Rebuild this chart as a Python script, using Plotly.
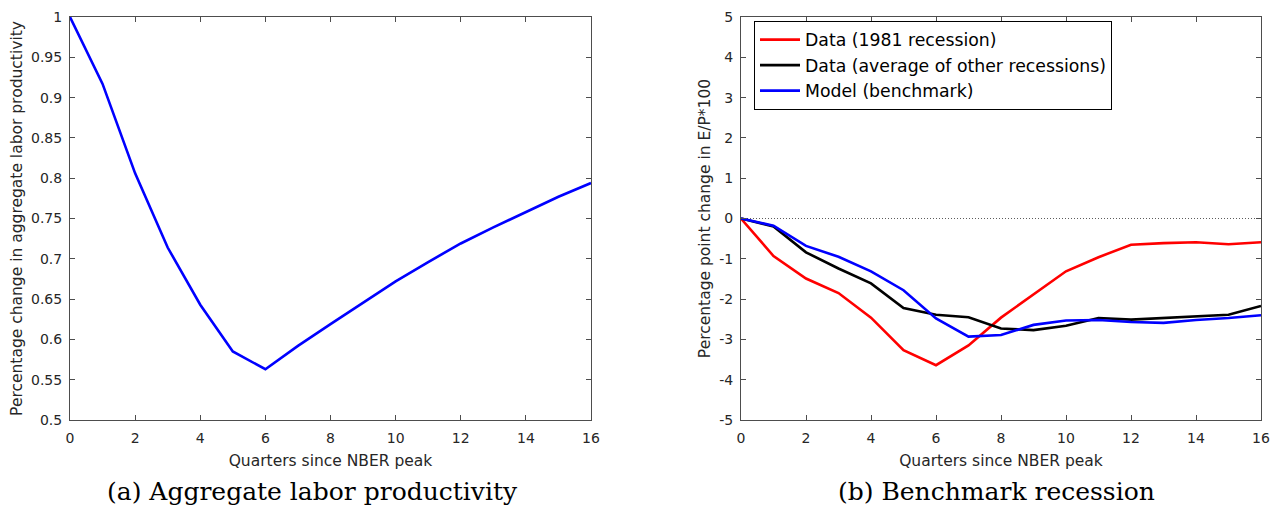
import plotly.graph_objects as go

quarters = list(range(17))
productivity = [1.0, 0.917, 0.806, 0.714, 0.643, 0.585, 0.563, 0.592, 0.619,
                0.646, 0.672, 0.696, 0.719, 0.739, 0.758, 0.777, 0.794]
data_1981 = [0.0, -0.93, -1.49, -1.85, -2.46, -3.27, -3.64, -3.15, -2.46,
             -1.89, -1.31, -0.96, -0.65, -0.61, -0.59, -0.64, -0.59]
data_avg = [0.0, -0.20, -0.84, -1.24, -1.61, -2.22, -2.39, -2.45, -2.73,
            -2.77, -2.66, -2.47, -2.51, -2.47, -2.43, -2.39, -2.17]
model = [0.0, -0.18, -0.68, -0.95, -1.31, -1.78, -2.48, -2.93, -2.89,
         -2.64, -2.53, -2.52, -2.57, -2.59, -2.52, -2.47, -2.40]
left_yticks = [0.5, 0.55, 0.6, 0.65, 0.7, 0.75, 0.8, 0.85, 0.9, 0.95, 1.0]
left_ytext = ["0.5", "0.55", "0.6", "0.65", "0.7", "0.75", "0.8", "0.85", "0.9", "0.95", "1"]
right_yticks = list(range(-5, 6))
right_ytext = ["-5", "-4", "-3", "-2", "-1", "0", "1", "2", "3", "4", "5"]
xticks = list(range(0, 17, 2))
captions = ["(a) Aggregate labor productivity", "(b) Benchmark recession"]

axis_col = "#262626"
line_col = "#4d4d4d"
font_sans = "DejaVu Sans, sans-serif"

# plot-area geometry in pixels
L, R, T, B = 70, 22, 9, 100
W = 1283 - L - R
H = 520 - T - B


def px_x(p):
    return (p - L) / W


def px_y(p):
    return (520 - B - p) / H


fig = go.Figure()
fig.add_trace(go.Scatter(x=quarters, y=productivity, mode="lines",
                         line=dict(color="#0000ff", width=2.6), showlegend=False,
                         xaxis="x", yaxis="y"))
fig.add_trace(go.Scatter(x=[0, 16], y=[0, 0], mode="lines",
                         line=dict(color="#333333", width=0.8, dash="1px,2px"),
                         showlegend=False, xaxis="x2", yaxis="y2"))
fig.add_trace(go.Scatter(x=quarters, y=data_1981, mode="lines", name="Data (1981 recession)",
                         line=dict(color="#ff0000", width=2.6), xaxis="x2", yaxis="y2"))
fig.add_trace(go.Scatter(x=quarters, y=data_avg, mode="lines",
                         name="Data (average of other recessions)",
                         line=dict(color="#000000", width=2.6), xaxis="x2", yaxis="y2"))
fig.add_trace(go.Scatter(x=quarters, y=model, mode="lines", name="Model (benchmark)",
                         line=dict(color="#0000ff", width=2.6), xaxis="x2", yaxis="y2"))

common = dict(showline=True, linecolor=line_col, linewidth=1, mirror="allticks",
              ticks="inside", ticklen=5, tickcolor=line_col, showgrid=False,
              zeroline=False, tickfont=dict(family=font_sans, size=14, color=axis_col))
title_font = dict(family=font_sans, size=15.5, color=axis_col)

fig.update_layout(
    width=1283, height=520,
    margin=dict(l=L, r=R, t=T, b=B),
    paper_bgcolor="white", plot_bgcolor="white",
    font=dict(family=font_sans, color=axis_col),
    xaxis=dict(domain=[0, px_x(591)], range=[0, 16], tickvals=xticks, ticklabelstandoff=5,
               title=dict(text="Quarters since NBER peak", font=title_font, standoff=10),
               **common),
    yaxis=dict(domain=[0, 1], range=[0.5, 1], tickvals=left_yticks, ticktext=left_ytext,
               ticklabelstandoff=4,
               title=dict(text="Percentage change in aggregate labor productivity",
                          font=title_font, standoff=4),
               **common),
    xaxis2=dict(domain=[px_x(741), 1], range=[0, 16], tickvals=xticks, anchor="y2",
                ticklabelstandoff=5,
                title=dict(text="Quarters since NBER peak", font=title_font, standoff=10),
                **common),
    yaxis2=dict(domain=[0, 1], range=[-5, 5], tickvals=right_yticks, ticktext=right_ytext,
                anchor="x2", ticklabelstandoff=4,
                title=dict(text="Percentage point change in E/P*100",
                           font=title_font, standoff=4),
                **common),
    legend=dict(x=px_x(754), y=px_y(13), xanchor="left", yanchor="top",
                xref="paper", yref="paper",
                bgcolor="white", bordercolor="black", borderwidth=1,
                font=dict(family=font_sans, size=17.3, color="black"),
                tracegroupgap=0, itemwidth=40),
    annotations=[
        dict(text=captions[0], x=px_x(312), y=px_y(493), xref="paper", yref="paper",
             xanchor="center", yanchor="middle", showarrow=False,
             font=dict(family="DejaVu Serif, serif", size=25, color="black")),
        dict(text=captions[1], x=px_x(996), y=px_y(493), xref="paper", yref="paper",
             xanchor="center", yanchor="middle", showarrow=False,
             font=dict(family="DejaVu Serif, serif", size=25, color="black")),
    ],
)

fig.write_html("out.html")
